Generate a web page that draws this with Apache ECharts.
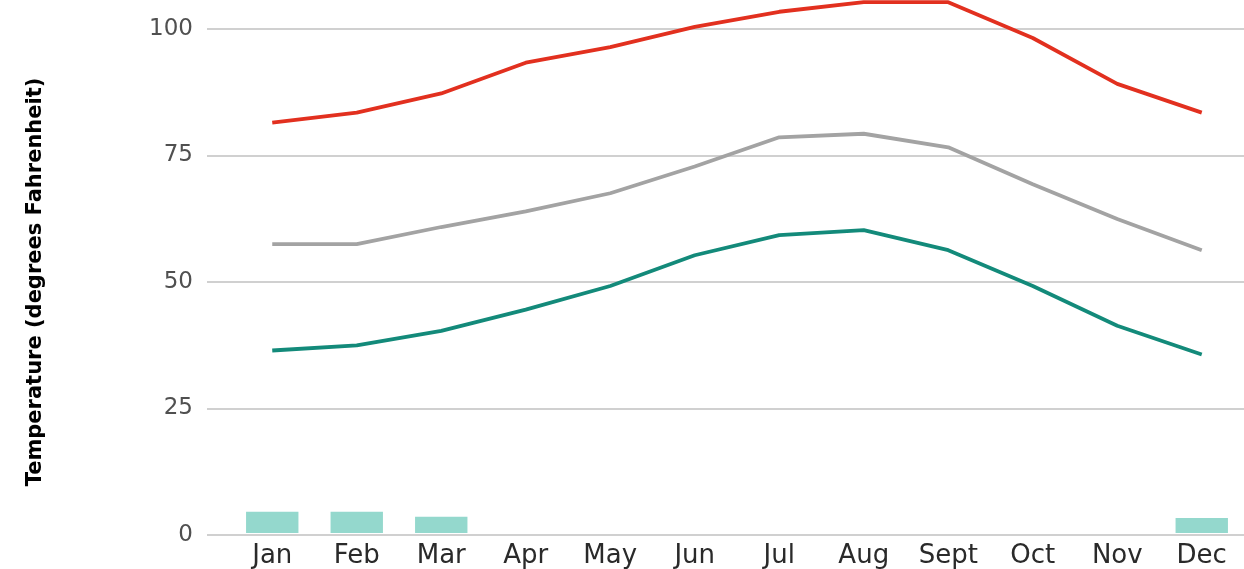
<!DOCTYPE html>
<html>
<head>
<meta charset="utf-8">
<script src="https://cdn.jsdelivr.net/npm/echarts@6/dist/echarts.min.js"></script>
<style>
html,body{margin:0;padding:0;background:#fff;}
#chart{width:1244px;height:569px;}
</style>
</head>
<body>
<div id="chart"></div>
<script>
const months = ['Jan','Feb','Mar','Apr','May','Jun','Jul','Aug','Sept','Oct','Nov','Dec'];
const highTemps = [81.4, 83.4, 87.2, 93.3, 96.4, 100.4, 103.4, 105.3, 105.3, 98.2, 89.1, 83.4];
const meanTemps = [57.3, 57.3, 60.7, 63.8, 67.4, 72.7, 78.5, 79.2, 76.5, 69.2, 62.3, 56.1];
const lowTemps  = [36.2, 37.2, 40.1, 44.3, 49.0, 55.1, 59.1, 60.1, 56.1, 49.0, 41.1, 35.4];
const precip    = [4.2, 4.2, 3.2, 0, 0, 0, 0, 0, 0, 0, 0, 3.0];
const yTicks = [0, 25, 50, 75, 100];
const yTitle = 'Temperature (degrees Fahrenheit)';

const chart = echarts.init(document.getElementById('chart'), null, {renderer:'canvas'});
const yMin = 0, yMax = 105.5, gridTop = 535 - 5.06 * 105.5, gridBottom = 34;
const labelFont = '"DejaVu Sans", "Noto Sans", sans-serif';
chart.setOption({
  animation: false,
  backgroundColor: '#ffffff',
  grid: [
    {left: 207, right: 0, top: gridTop, bottom: gridBottom},
    {left: 230, right: -3, top: gridTop, bottom: gridBottom}
  ],
  xAxis: [
    {type: 'category', gridIndex: 0, data: months, show: false},
    {type: 'category', gridIndex: 1, data: months, boundaryGap: true,
     axisLine: {show: false}, axisTick: {show: false},
     axisLabel: {fontFamily: labelFont, fontSize: 26, color: '#2a2a2a', margin: 10, interval: 0}}
  ],
  yAxis: [
    {type: 'value', gridIndex: 0, min: yMin, max: yMax, interval: 25,
     axisLine: {show: false}, axisTick: {show: false},
     axisLabel: {fontFamily: labelFont, fontSize: 23, color: '#505050', margin: 14,
       showMaxLabel: false,
       formatter: v => yTicks.indexOf(v) >= 0 ? String(v) : ''},
     splitLine: {showMaxLine: false, lineStyle: {color: '#d0d0d0', width: 2}}},
    {type: 'value', gridIndex: 1, min: yMin, max: yMax, interval: 25, show: false,
     splitLine: {show: false}}
  ],
  series: [
    {type: 'bar', xAxisIndex: 1, yAxisIndex: 1, data: precip, barWidth: '62%',
     itemStyle: {color: '#94d8cd'}, silent: true},
    {type: 'line', xAxisIndex: 1, yAxisIndex: 1, data: highTemps, showSymbol: false,
     clip: false, lineStyle: {color: '#e2301f', width: 3.8}},
    {type: 'line', xAxisIndex: 1, yAxisIndex: 1, data: meanTemps, showSymbol: false,
     lineStyle: {color: '#a3a3a3', width: 3.8}},
    {type: 'line', xAxisIndex: 1, yAxisIndex: 1, data: lowTemps, showSymbol: false,
     lineStyle: {color: '#138a7a', width: 3.8}}
  ],
  graphic: [
    {type: 'text', x: 36, y: 282, rotation: Math.PI / 2,
     style: {text: yTitle, font: 'bold 21px "DejaVu Sans", sans-serif',
       fill: '#000', textAlign: 'center', textVerticalAlign: 'middle'}}
  ]
});
</script>
</body>
</html>
